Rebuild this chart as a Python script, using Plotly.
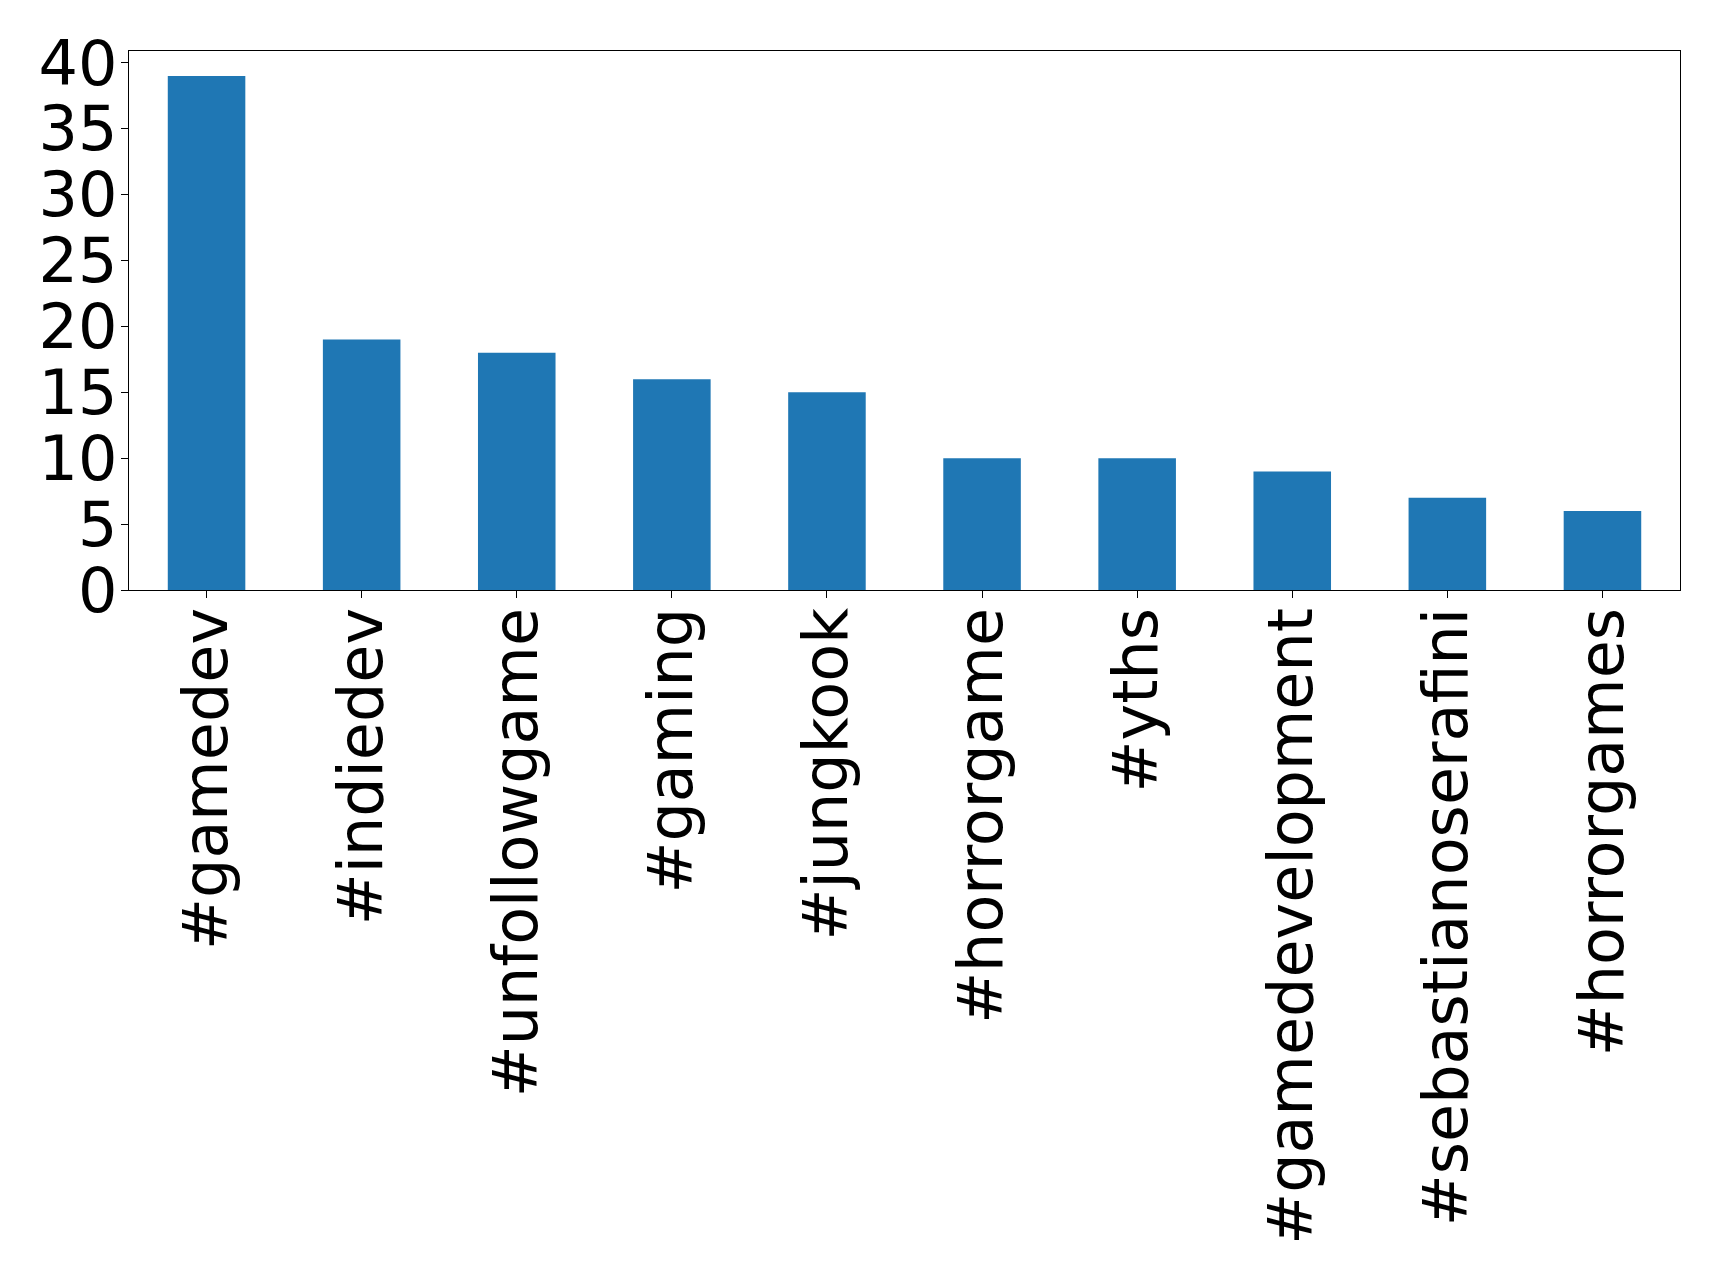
import plotly.graph_objects as go

categories = ["#gamedev", "#indiedev", "#unfollowgame", "#gaming", "#jungkook",
              "#horrorgame", "#yths", "#gamedevelopment", "#sebastianoserafini", "#horrorgames"]
counts = [39, 19, 18, 16, 15, 10, 10, 9, 7, 6]
y_ticks = [0, 5, 10, 15, 20, 25, 30, 35, 40]

fig = go.Figure(go.Bar(x=categories, y=counts, marker_color="#1f77b4",
                       marker_line_width=0, width=0.5))

fig.update_layout(
    width=1719, height=1281,
    margin=dict(l=121, r=47, t=43, b=699, autoexpand=False),
    paper_bgcolor="white", plot_bgcolor="white",
    font=dict(family="DejaVu Sans", color="black"),
    showlegend=False, bargap=0.5,
)
fig.update_xaxes(
    type="category", range=[-0.5, 9.5], tickangle=-90,
    tickfont=dict(size=62, family="DejaVu Sans", color="black"),
    showline=True, linecolor="black", linewidth=1.2, mirror=True,
    ticks="outside", ticklen=7, tickcolor="black", tickwidth=1.2,
    showgrid=False, zeroline=False, ticklabelstandoff=-15,
)
fig.update_yaxes(
    range=[0, 40.9], tickvals=y_ticks, ticktext=[str(v) for v in y_ticks],
    tickfont=dict(size=62, family="DejaVu Sans", color="black"),
    showline=True, linecolor="black", linewidth=1.2, mirror=True,
    ticks="outside", ticklen=7, tickcolor="black", tickwidth=1.2,
    showgrid=False, zeroline=False, ticklabelstandoff=-9,
)
fig.write_html("out.html")
